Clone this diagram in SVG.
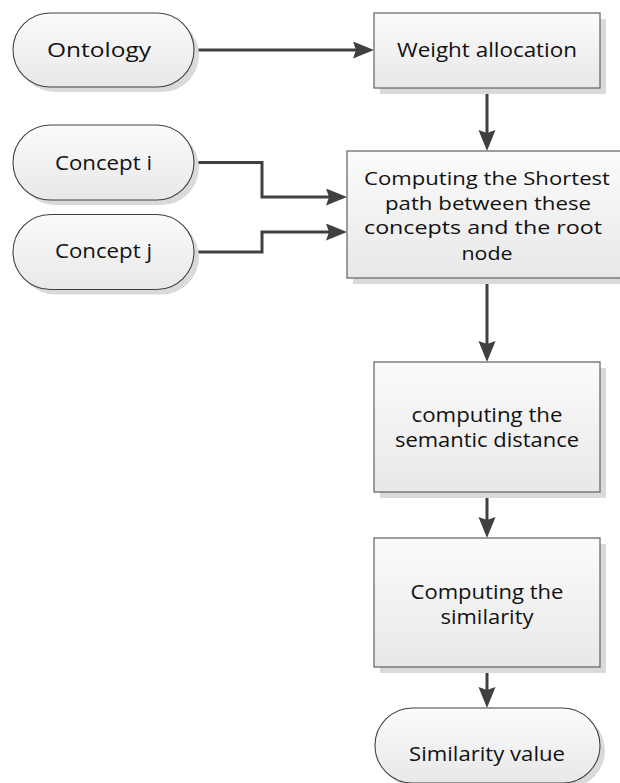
<svg xmlns="http://www.w3.org/2000/svg" width="620" height="783" viewBox="0 0 620 783">
<style>
.box{fill:url(#fillg);stroke:#6b6b6b;stroke-width:1.3}
.pill{fill:url(#fillg);stroke:#404040;stroke-width:1.1}
.shadow{fill:#dadada}
.lbl{font-family:"Open Sans","Liberation Sans",sans-serif;font-size:19.5px;fill:#111;text-anchor:middle}
.sm{font-size:18.5px}
.conn{fill:none;stroke:#404040;stroke-width:3}
</style>
<defs>
<linearGradient id="fillg" x1="0" y1="0" x2="0" y2="1">
<stop offset="0" stop-color="#fbfbfb"/>
<stop offset="1" stop-color="#e8e8e8"/>
</linearGradient>
<marker id="arr" markerUnits="userSpaceOnUse" markerWidth="22" markerHeight="18" refX="13" refY="8.5" orient="auto" viewBox="0 0 22 18">
<path d="M0,0 L21,8.5 L0,17 L3,8.5 Z" fill="#404040"/>
</marker>
</defs>

<g id="connectors">
<path class="conn" d="M194,50 H366" marker-end="url(#arr)"/>
<path class="conn" d="M487,88 V143" marker-end="url(#arr)"/>
<path class="conn" d="M194,162.5 H262 V197 H339" marker-end="url(#arr)"/>
<path class="conn" d="M194,252 H262 V232 H339" marker-end="url(#arr)"/>
<path class="conn" d="M487,278 V354" marker-end="url(#arr)"/>
<path class="conn" d="M487,492 V530" marker-end="url(#arr)"/>
<path class="conn" d="M487,667 V700" marker-end="url(#arr)"/>
</g>

<g id="ontology">
<rect class="shadow" x="18" y="18" width="181" height="74" rx="37" ry="37"/>
<rect class="pill" x="13" y="13" width="181" height="74" rx="37" ry="37"/>
<text class="lbl" x="99" y="57" textLength="104" lengthAdjust="spacingAndGlyphs">Ontology</text>
</g>

<g id="concept-i">
<rect class="shadow" x="18" y="130" width="181" height="75" rx="37.5" ry="37.5"/>
<rect class="pill" x="13" y="125" width="181" height="75" rx="37.5" ry="37.5"/>
<text class="lbl" x="103.5" y="170" textLength="97" lengthAdjust="spacingAndGlyphs">Concept i</text>
</g>

<g id="concept-j">
<rect class="shadow" x="18" y="219.5" width="181" height="75" rx="37.5" ry="37.5"/>
<rect class="pill" x="13" y="214.5" width="181" height="75" rx="37.5" ry="37.5"/>
<text class="lbl" x="103.5" y="258" textLength="97" lengthAdjust="spacingAndGlyphs">Concept j</text>
</g>

<g id="weight-allocation">
<rect class="shadow" x="380" y="19" width="226" height="75"/>
<rect class="box" x="374" y="13" width="226" height="75"/>
<text class="lbl" x="487" y="57" textLength="180" lengthAdjust="spacingAndGlyphs">Weight allocation</text>
</g>

<g id="shortest-path">
<rect class="shadow" x="353" y="157" width="280" height="127"/>
<rect class="box" x="347" y="151" width="280" height="127"/>
<text class="lbl sm" x="487" y="185" textLength="246" lengthAdjust="spacingAndGlyphs">Computing the Shortest</text>
<text class="lbl sm" x="488" y="210" textLength="206" lengthAdjust="spacingAndGlyphs">path between these</text>
<text class="lbl sm" x="483" y="234" textLength="238" lengthAdjust="spacingAndGlyphs">concepts and the root</text>
<text class="lbl sm" x="487" y="260" textLength="51" lengthAdjust="spacingAndGlyphs">node</text>
</g>

<g id="semantic-distance">
<rect class="shadow" x="380" y="368" width="226" height="130"/>
<rect class="box" x="374" y="362" width="226" height="130"/>
<text class="lbl" x="487" y="422" textLength="151" lengthAdjust="spacingAndGlyphs">computing the</text>
<text class="lbl" x="487" y="447" textLength="184" lengthAdjust="spacingAndGlyphs">semantic distance</text>
</g>

<g id="similarity">
<rect class="shadow" x="380" y="544" width="226" height="129"/>
<rect class="box" x="374" y="538" width="226" height="129"/>
<text class="lbl" x="487" y="599" textLength="153" lengthAdjust="spacingAndGlyphs">Computing the</text>
<text class="lbl" x="487" y="624" textLength="93" lengthAdjust="spacingAndGlyphs">similarity</text>
</g>

<g id="similarity-value">
<rect class="shadow" x="380" y="713" width="225" height="75" rx="37.5" ry="37.5"/>
<rect class="pill" x="375" y="708" width="225" height="75" rx="37.5" ry="37.5"/>
<text class="lbl" x="487" y="761" textLength="156" lengthAdjust="spacingAndGlyphs">Similarity value</text>
</g>
</svg>
